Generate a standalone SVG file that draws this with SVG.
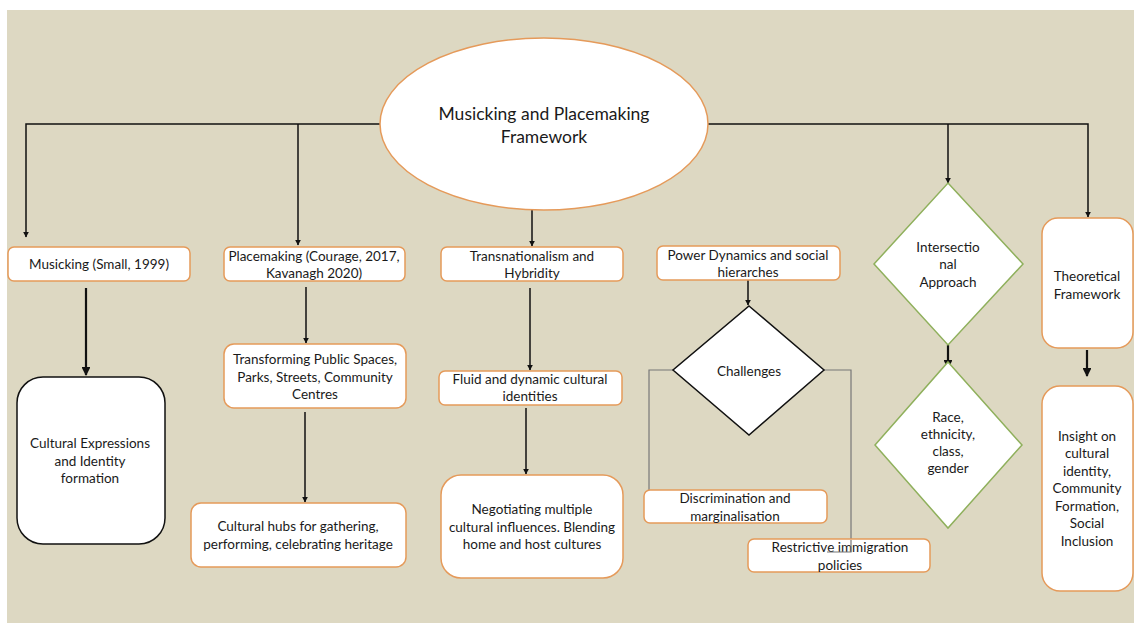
<svg xmlns="http://www.w3.org/2000/svg" width="1134" height="623" viewBox="0 0 1134 623">
<style>
text{font-family:Lato,"Liberation Sans",sans-serif;font-size:13.5px;fill:#1a1a1a;text-anchor:middle}
.big{font-size:17.5px}
.ob{fill:#fff;stroke:#e59a5a;stroke-width:1.5}
.kb{fill:#fff;stroke:#111;stroke-width:1.5}
.gd{fill:#fff;stroke:#8fb05c;stroke-width:1.5}
.c{fill:none;stroke:#111;stroke-width:1.5}
.t{fill:none;stroke:#111;stroke-width:2.2}
.g{fill:none;stroke:#777;stroke-width:1.2}
</style>
<defs>
<marker id="a" viewBox="0 0 10 10" refX="9" refY="5" markerWidth="4" markerHeight="4" orient="auto" markerUnits="strokeWidth"><path d="M0,0L10,5L0,10z" fill="#111"/></marker>
</defs>
<rect x="0" y="0" width="1134" height="623" fill="#fff"/>
<rect x="7" y="10" width="1127" height="613" fill="#ddd8c2"/>
<g id="connectors">
<path class="c" d="M380,124H26V237" marker-end="url(#a)"/>
<path class="c" d="M298,124V245" marker-end="url(#a)"/>
<path class="c" d="M708,124H1088V217" marker-end="url(#a)"/>
<path class="c" d="M948,124V183" marker-end="url(#a)"/>
<path class="c" d="M532,210V246" marker-end="url(#a)"/>
<path class="t" d="M86,288V375" marker-end="url(#a)"/>
<path class="c" d="M306,287V343" marker-end="url(#a)"/>
<path class="c" d="M305,412V502" marker-end="url(#a)"/>
<path class="c" d="M530,288V370" marker-end="url(#a)"/>
<path class="c" d="M526,408V474" marker-end="url(#a)"/>
<path class="c" d="M748,280V305" marker-end="url(#a)"/>
<path class="t" d="M948,345V368" marker-end="url(#a)"/>
<path class="t" d="M1087,350V376" marker-end="url(#a)"/>
<path class="g" d="M673,370H649V499H669"/>
<path class="g" d="M824,370H851V552H827"/>
</g>
<g id="root"><ellipse class="ob" cx="544" cy="124" rx="164" ry="86"/><text class="big" x="544" y="120">Musicking and Placemaking</text><text class="big" x="544" y="143">Framework</text></g>
<g id="musicking"><rect class="ob" x="8" y="247" width="182" height="34" rx="6"/><text x="99" y="269">Musicking (Small, 1999)</text></g>
<g id="placemaking"><rect class="ob" x="224" y="247" width="181" height="34" rx="6"/><text x="314" y="261">Placemaking (Courage, 2017,</text><text x="314" y="278">Kavanagh 2020)</text></g>
<g id="transnationalism"><rect class="ob" x="441" y="247" width="182" height="34" rx="6"/><text x="532" y="261">Transnationalism and</text><text x="532" y="278">Hybridity</text></g>
<g id="power"><rect class="ob" x="657" y="246" width="183" height="34" rx="6"/><text x="748" y="260">Power Dynamics and social</text><text x="748" y="277">hierarches</text></g>
<g id="intersectional"><polygon class="gd" points="948,183 1023,264 948,345 874,264"/><text x="948" y="252">Intersectio</text><text x="948" y="269">nal</text><text x="948" y="287">Approach</text></g>
<g id="theoretical"><rect class="ob" x="1042" y="218" width="91" height="130" rx="16"/><text x="1087" y="281">Theoretical</text><text x="1087" y="299">Framework</text></g>
<g id="cultural-expressions"><rect class="kb" x="17" y="377" width="148" height="167" rx="26"/><text x="90" y="448">Cultural Expressions</text><text x="90" y="466">and Identity</text><text x="90" y="483">formation</text></g>
<g id="transforming"><rect class="ob" x="224" y="344" width="182" height="64" rx="10"/><text x="315" y="364">Transforming Public Spaces,</text><text x="315" y="382">Parks, Streets, Community</text><text x="315" y="399">Centres</text></g>
<g id="hubs"><rect class="ob" x="191" y="503" width="215" height="64" rx="10"/><text x="298" y="531">Cultural hubs for gathering,</text><text x="298" y="549">performing, celebrating heritage</text></g>
<g id="fluid"><rect class="ob" x="439" y="371" width="183" height="34" rx="6"/><text x="530" y="384">Fluid and dynamic cultural</text><text x="530" y="401">identities</text></g>
<g id="negotiating"><rect class="ob" x="441" y="475" width="182" height="103" rx="20"/><text x="532" y="514">Negotiating multiple</text><text x="532" y="532">cultural influences. Blending</text><text x="532" y="549">home and host cultures</text></g>
<g id="challenges"><polygon class="kb" points="749,306 824,370 749,435 673,370"/><text x="749" y="376">Challenges</text></g>
<g id="discrimination"><rect class="ob" x="644" y="490" width="183" height="33" rx="6"/><text x="735" y="503">Discrimination and</text><text x="735" y="521">marginalisation</text></g>
<g id="restrictive"><rect class="ob" x="748" y="539" width="182" height="33" rx="6"/><text x="840" y="552">Restrictive immigration</text><text x="840" y="570">policies</text></g>
<path class="g" d="M851,540V552H827"/>
<g id="race"><polygon class="gd" points="948,362 1022,445 948,528 875,445"/><text x="948" y="422">Race,</text><text x="948" y="439">ethnicity,</text><text x="948" y="456">class,</text><text x="948" y="473">gender</text></g>
<g id="insight"><rect class="ob" x="1042" y="386" width="91" height="205" rx="18"/><text x="1087" y="441">Insight on</text><text x="1087" y="458">cultural</text><text x="1087" y="476">identity,</text><text x="1087" y="493">Community</text><text x="1087" y="511">Formation,</text><text x="1087" y="528">Social</text><text x="1087" y="546">Inclusion</text></g>
</svg>
